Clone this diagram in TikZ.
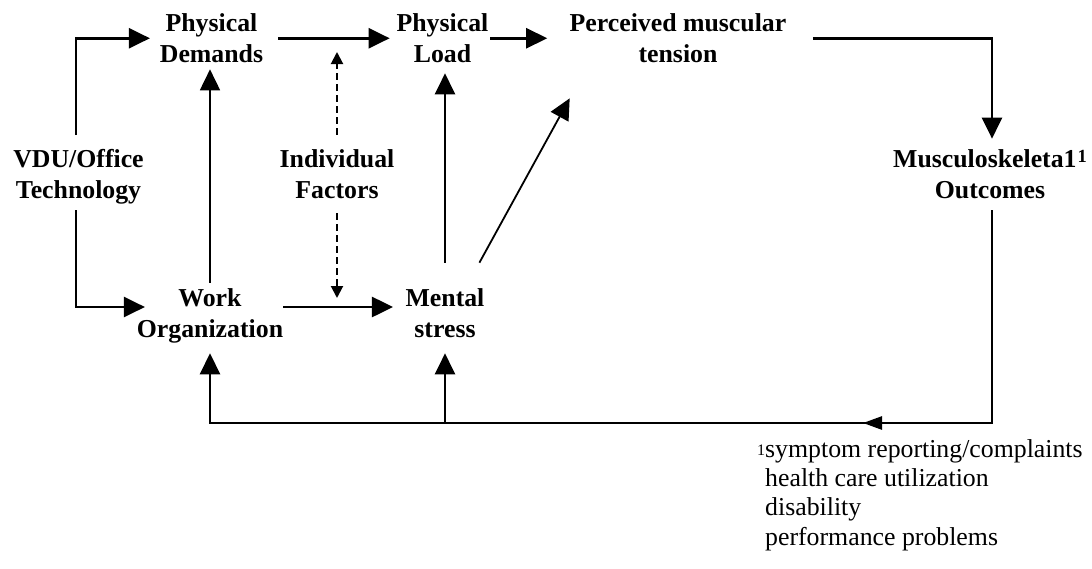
\documentclass[tikz,border=0pt]{standalone}
\usepackage{fontspec}
\setmainfont{Liberation Serif}
\usetikzlibrary{arrows.meta,decorations.markings}

% raised footnote-style digit: #1 = raise, #2 = font size
\newcommand\supdigit[2]{\raisebox{#1}{\fontsize{#2}{#2}\selectfont 1}}

\begin{document}
\begin{tikzpicture}[x=1pt,y=-1pt,
  lbl/.style={font=\fontsize{25.8}{31}\selectfont\bfseries, align=center,
              inner sep=0pt, outer sep=0pt},
  arr/.style={line width=2.6pt, -{Triangle[length=21pt,width=20pt]}},
  thinarr/.style={line width=1.8pt, -{Triangle[length=21pt,width=20pt]}},
  dasharr/.style={line width=2pt, dash pattern=on 7pt off 4pt,
                  -{Triangle[length=12pt,width=12pt]}},
  notetext/.style={font=\fontsize{25.8}{29.3}\selectfont, align=left,
                   inner sep=0pt, anchor=north west}]

\useasboundingbox (0,0) rectangle (1092,568);
\fill[white] (0,0) rectangle (1092,568);

% labels
\node[lbl] (vdu) at (78.5,176.6) {VDU/Office\\Technology};
\node[lbl] (pd)  at (211.5,38.25) {Physical\\Demands};
\node[lbl] (pl)  at (442.5,38.25) {Physical\\Load};
\node[lbl] (pmt) at (678,38.25) {Perceived muscular\\tension};
\node[lbl] (ind) at (337,173.75) {Individual\\Factors};
\node[lbl] (mo)  at (990,173.75) {Musculoskeleta1\kern1pt\supdigit{4.5pt}{18.5}\\Outcomes};
\node[lbl] (wo)  at (210,316) {Work\\Organization};
\node[lbl] (ms)  at (445,312.75) {Mental\\stress};

\node[notetext] (fn) at (765,439)
  {\llap{\supdigit{2pt}{16}}symptom reporting/complaints\\
   health care utilization\\disability\\performance problems};

% top row and branches from the technology label
\draw[arr, shorten <=14pt, shorten >=10pt] ([xshift=-2.5pt]vdu.north) |- (pd.west);
\draw[arr, shorten <=6.4pt] ([xshift=-2.5pt]vdu.south) |- ([xshift=8pt,yshift=9pt]wo.west);
\draw[arr, shorten <=15pt, shorten >=7pt] (pd.east) -- (pl.west);
\draw[arr, shorten <=2pt, shorten >=22.5pt] (pl.east) -- (pmt.west);
\draw[arr, shorten <=26.5pt, shorten >=10.5pt] (pmt.east) -| ([xshift=2pt]mo.north);

% vertical links
\draw[thinarr, shorten <=6pt, shorten >=6.5pt] (wo.north) -- (wo.north |- pd.south);
\draw[dasharr, shorten <=14.5pt, shorten >=13.75pt] (ind.north) -- (ind.north |- pd.east);
\draw[dasharr, shorten <=15pt, shorten >=18pt] (ind.south) -- (ind.south |- wo.east);
\draw[arr, shorten >=12.6pt] ([yshift=9pt]wo.east) -- ([yshift=9pt]wo.east -| ms.west);
\draw[arr, shorten <=25.5pt, shorten >=10.5pt] (ms.north) -- (ms.north |- pl.south);
\draw[thinarr] ([xshift=-5pt,yshift=25.5pt]ms.north east) -- ([yshift=-35.5pt]pmt.south west);

% feedback loop
\coordinate (loop) at (992,423);
\draw[arr, shorten <=12pt, shorten >=10pt] ([xshift=2pt]mo.south) |- (wo.south |- loop) -- (wo.south);
\draw[arr, shorten >=16pt] (ms.south |- loop) -- (ms.south);
\draw[line width=2.6pt, postaction={decorate},
      decoration={markings, mark=at position 129pt with
        {\arrow{Triangle[length=19pt,width=13pt]}}}]
  (loop) -- (wo.south |- loop);
\end{tikzpicture}
\end{document}
